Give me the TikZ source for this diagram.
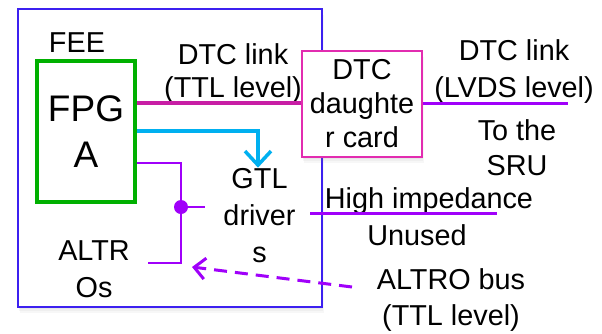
\documentclass[tikz,border=0pt]{standalone}
\usepackage{fontspec}
\setmainfont{Liberation Sans}
\usetikzlibrary{arrows.meta,shadows}
\definecolor{boxblue}{RGB}{60,32,240}
\definecolor{fgreen}{RGB}{0,176,0}
\definecolor{dtcpink}{RGB}{226,44,176}
\definecolor{linkmag}{RGB}{200,30,165}
\definecolor{arrcyan}{RGB}{0,176,240}
\definecolor{buspurp}{RGB}{160,0,250}
\tikzset{
  lbl/.style={align=center, anchor=base, inner sep=0pt, font=\fontsize{28.8}{33}\selectfont},
  softshadow/.style={
    drop shadow={opacity=0.07, shadow xshift=0.5pt, shadow yshift=-1.5pt},
    drop shadow={opacity=0.07, shadow xshift=1pt, shadow yshift=-3.5pt},
    drop shadow={opacity=0.06, shadow xshift=1.5pt, shadow yshift=-6pt}},
  maglink/.style={draw=linkmag, line width=3.3pt},
  cyanlink/.style={draw=arrcyan, line width=3.5pt, -{Straight Barb[length=14pt,width=26pt]}},
  buslink/.style={draw=buspurp, line width=2.5pt},
  purplelink/.style={draw=buspurp, line width=3pt},
  dashlink/.style={draw=buspurp, line width=3pt, dash pattern=on 13pt off 8pt, -{Straight Barb[length=11pt,width=21pt]}}
}
\begin{document}
\begin{tikzpicture}[x=1pt,y=-1pt]
\useasboundingbox[fill=white] (0,0) rectangle (602,333);
% outer FEE box
\node[draw=boxblue, line width=2.5pt, fill=white, minimum width=304pt, minimum height=298pt, inner sep=0pt, softshadow] (fee) at (170,158) {};
% FPGA
\node[draw=fgreen, line width=4.5pt, minimum width=98pt, minimum height=141pt, inner sep=0pt, align=center, font=\fontsize{37}{46}\selectfont] (fpga) at (86,131.5) {FPG\\A};
% labels (anchor base = baseline of last line)
\node[lbl] (feelbl) at (77,52.5) {FEE};
\node[lbl] (ttl) at (233,97) {DTC link\\(TTL level)};
\node[lbl, font=\fontsize{28.8}{37}\selectfont] (gtl) at (259.5,262) {GTL\\driver\\s};
\node[lbl, font=\fontsize{28.8}{37}\selectfont] (altros) at (94,297) {ALTR\\Os};
\node[lbl, font=\fontsize{28.8}{37}\selectfont] (lvds) at (514,97) {DTC link\\(LVDS level)};
\node[lbl, font=\fontsize{28.8}{35}\selectfont] (sru) at (517,175) {To the\\SRU};
\node[lbl] (hz) at (429,208) {High impedance};
\node[lbl] (unused) at (417,245) {Unused};
\node[lbl, font=\fontsize{28.8}{36}\selectfont] (altrobus) at (451,325) {ALTRO bus\\(TTL level)};
% coordinates
\coordinate (j1) at (181,163);
\coordinate (bus) at (181,207);
\coordinate (j2) at (181,263);
\coordinate (aend) at (148,263);
\coordinate (gstub) at (205,207);
\coordinate (hz1) at (310,213);
\coordinate (hz2) at (497,213);
\coordinate (lvdsend) at (568,103);
\coordinate (dstart) at (352,287);
\coordinate (dend) at (192,267);
% connectors inside the FEE
\draw[cyanlink] (fpga.east |- 0,131) -| (gtl.north -| 258,0);
\draw[buslink] (fpga.east |- j1) -- (j1) -- (j2) -- (aend);
\draw[buslink] (bus) -- (gstub);
\fill[buspurp] (bus) circle (7pt);
% DTC daughter card
\node[draw=dtcpink, line width=2.5pt, fill=white, minimum width=120pt, minimum height=106pt, inner sep=0pt, align=center, font=\fontsize{28.8}{34}\selectfont, softshadow] (dtc) at (362,104) {DTC\\daughte\\r card};
\draw[maglink] (fpga.east |- 0,103) -- (dtc.west |- 0,103);
\draw[purplelink] (dtc.east |- lvdsend) -- (lvdsend);
\draw[purplelink] (hz1) -- (hz2);
\draw[dashlink] (dstart) -- (dend);
\end{tikzpicture}
\end{document}
